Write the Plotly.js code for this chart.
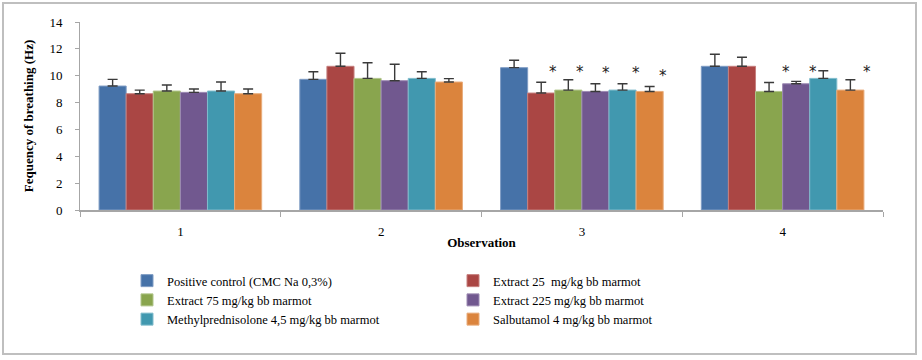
<!DOCTYPE html>
<html>
<head>
<meta charset="utf-8">
<script src="https://cdn.plot.ly/plotly-3.0.1.min.js"></script>
<style>
  html, body { margin: 0; padding: 0; background: #ffffff; }
  #chart { width: 922px; height: 360px; }
</style>
</head>
<body>
<div id="chart"></div>
<script>
// ---- data ----
var observations = ['1', '2', '3', '4'];

var seriesNames = [
  'Positive control (CMC Na 0,3%)',
  'Extract 25  mg/kg bb marmot',
  'Extract 75 mg/kg bb marmot',
  'Extract 225 mg/kg bb marmot',
  'Methylprednisolone 4,5 mg/kg bb marmot',
  'Salbutamol 4 mg/kg bb marmot'
];

var positiveControl = [9.23, 9.73, 10.60, 10.70];
var extract25       = [8.66, 10.70, 8.71, 10.70];
var extract75       = [8.86, 9.80, 8.93, 8.83];
var extract225      = [8.76, 9.63, 8.83, 9.40];
var methylpred      = [8.86, 9.80, 8.93, 9.80];
var salbutamol      = [8.66, 9.53, 8.83, 8.93];

var errPositiveControl = [0.50, 0.57, 0.55, 0.90];
var errExtract25       = [0.27, 0.97, 0.80, 0.67];
var errExtract75       = [0.45, 1.17, 0.77, 0.67];
var errExtract225      = [0.25, 1.22, 0.57, 0.18];
var errMethylpred      = [0.67, 0.50, 0.47, 0.57];
var errSalbutamol      = [0.35, 0.25, 0.37, 0.77];

// significance markers (*): observation, series index, height
var starObservation = ['3', '3', '3', '3', '3', '4', '4', '4'];
var starSeries      = [1, 2, 3, 4, 5, 3, 4, 5];
var starValue       = [10.25, 10.25, 10.18, 10.18, 9.95, 10.25, 10.25, 10.28];

// ---- styling ----
var colors = ['#4672A8', '#AA4644', '#89A54E', '#71588F', '#4198AF', '#DB843D'];
var lineColors = ['#7f9cc4', '#c67f7d', '#b0c58b', '#9d8ab3', '#80bccc', '#e9ac7c'];
var starShift = [12, 12, 11, 13, 13, -10, -10, 17];

var values = [positiveControl, extract25, extract75, extract225, methylpred, salbutamol];
var errors = [errPositiveControl, errExtract25, errExtract75, errExtract225, errMethylpred, errSalbutamol];

var FONT = 'Liberation Serif, Times New Roman, serif';
var bargap = 0.19;

var traces = values.map(function (vals, i) {
  return {
    type: 'bar',
    name: seriesNames[i],
    x: observations,
    y: vals,
    marker: { color: colors[i], line: { color: lineColors[i], width: 1 } },
    error_y: {
      type: 'data',
      symmetric: false,
      array: errors[i],
      arrayminus: vals.map(function () { return 0; }),
      color: '#3a3a3a',
      thickness: 1.4,
      width: 5
    },
    hoverinfo: 'x+y+name'
  };
});

var M = { l: 80, r: 39, t: 22, b: 150 };
var W = 922, H = 360;
var plotW = W - M.l - M.r, plotH = H - M.t - M.b;
function px2x(px) { return (px - M.l) / plotW; }
function px2y(py) { return (H - M.b - py) / plotH; }

var barW = (1 - bargap) / seriesNames.length;
var annotations = starObservation.map(function (obs, k) {
  var idx = observations.indexOf(obs);
  var s = starSeries[k];
  return {
    x: idx + (s - (seriesNames.length - 1) / 2) * barW,
    y: starValue[k],
    xref: 'x', yref: 'y',
    text: '*',
    showarrow: false,
    xshift: starShift[k],
    font: { family: 'DejaVu Sans, sans-serif', size: 15, color: '#1a1a1a' },
    xanchor: 'center', yanchor: 'middle'
  };
});

var layout = {
  width: W, height: H,
  margin: M,
  paper_bgcolor: '#ffffff',
  plot_bgcolor: '#ffffff',
  barmode: 'group',
  bargap: bargap,
  bargroupgap: 0,
  font: { family: FONT, size: 13, color: '#000000' },
  showlegend: true,
  xaxis: {
    type: 'category',
    showline: true, linecolor: '#a6a6a6', linewidth: 2,
    ticks: 'outside', tickson: 'boundaries', ticklen: 5, tickcolor: '#a6a6a6', tickwidth: 1,
    ticklabelstandoff: 8,
    showgrid: false, zeroline: false,
    tickfont: { family: FONT, size: 13, color: '#000' },
    title: { text: 'Observation', font: { family: FONT, size: 13, weight: 'bold', color: '#000' }, standoff: 0 }
  },
  yaxis: {
    range: [0, 14], dtick: 2, tick0: 0,
    showline: true, linecolor: '#a6a6a6', linewidth: 1,
    ticks: 'outside', ticklen: 4, tickcolor: '#a6a6a6',
    ticklabelstandoff: 10,
    showgrid: false, zeroline: false,
    tickfont: { family: FONT, size: 13, color: '#000' },
    title: { text: 'Fequency of breathing (Hz)', font: { family: FONT, size: 13, weight: 'bold', color: '#000' }, standoff: 12 }
  },
  legend: {
    orientation: 'h',
    x: px2x(127), y: px2y(266), xanchor: 'left', yanchor: 'top',
    entrywidth: 281, entrywidthmode: 'pixels',
    font: { family: FONT, size: 12.5, color: '#000' },
    tracegroupgap: 0,
    traceorder: 'normal',
    itemclick: false, itemdoubleclick: false,
    bgcolor: 'rgba(0,0,0,0)'
  },
  annotations: annotations,
  shapes: [{
    type: 'rect', xref: 'paper', yref: 'paper',
    x0: px2x(3), x1: px2x(916), y0: px2y(354), y1: px2y(3),
    line: { color: '#bfbfbf', width: 2 }, fillcolor: 'rgba(0,0,0,0)', layer: 'below'
  }]
};

Plotly.newPlot('chart', traces, layout, { displayModeBar: false, staticPlot: true });
</script>
</body>
</html>
